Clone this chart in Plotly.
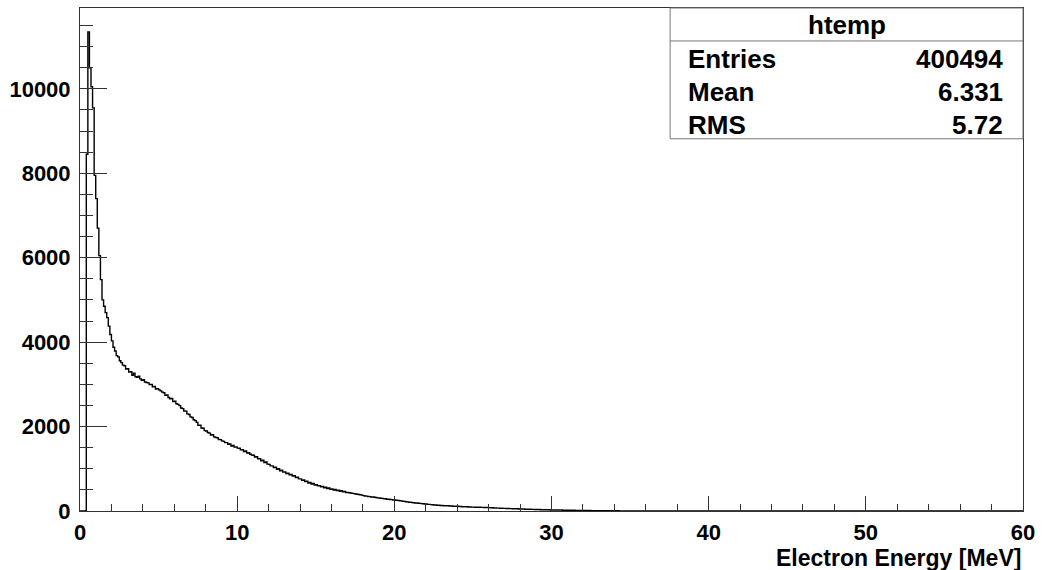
import plotly.graph_objects as go

# Histogram: 600 bins of 0.1 MeV over [0, 60]; counts
bin_width = 0.1
x_min, x_max = 0.0, 60.0
counts_read = [
    # 0.0 - 1.0
    0, 0, 0, 0, 8450, 11350, 10500, 10050, 9550, 7950,
    # 1.0 - 2.0
    7400, 6700, 6050, 5480, 5000, 4850, 4700, 4580, 4380, 4180,
    # 2.0 - 3.0
    4030, 3880, 3790, 3680, 3650, 3560, 3515, 3455, 3440, 3365,
    # 3.0 - 4.0
    3370, 3290, 3300, 3215, 3265, 3180, 3170, 3195, 3130, 3095,
    # 4.0 - 5.0
    3110, 3055, 3045, 3035, 2995, 3000, 2940, 2950, 2890, 2895,
    # 5.0 - 6.0
    2870, 2845, 2815, 2800, 2740, 2750, 2690, 2660, 2665, 2590,
    # 6.0 - 7.0
    2600, 2540, 2525, 2495, 2440, 2425, 2370, 2365, 2300, 2285,
    # 7.0 - 8.0
    2230, 2215, 2160, 2140, 2100, 2030, 2035, 1965, 1960, 1905,
    # 8.0 - 9.0
    1895, 1860, 1845, 1800, 1805, 1755, 1740, 1735, 1695, 1690,
    # 9.0 - 10.0
    1660, 1650, 1620, 1620, 1580, 1590, 1540, 1550, 1515, 1520,
    # 10.0 - 11.0
    1490, 1485, 1450, 1455, 1410, 1420, 1375, 1380, 1345, 1325,
    # 11.0 - 12.0
    1320, 1280, 1285, 1235, 1240, 1190, 1205, 1150, 1160, 1110,
    # 12.0 - 13.0
    1105, 1070, 1070, 1030, 1035, 990, 1000, 955, 965, 920,
    # 13.0 - 14.0
    925, 890, 895, 855, 865, 825, 835, 795, 800, 760,
    # 14.0 - 15.0
    760, 725, 735, 695, 705, 665, 675, 640, 650, 612,
    # 15.0 - 16.0
    622, 594, 602, 572, 582, 550, 562, 530, 545, 512,
    # 16.0 - 17.0
    525, 498, 508, 482, 494, 466, 480, 452, 462, 438,
    # 17.0 - 18.0
    440, 432, 426, 418, 412, 404, 398, 390, 385, 375,
    # 18.0 - 19.0
    365, 356, 353, 344, 341, 333, 331, 324, 321, 312,
    # 19.0 - 20.0
    309, 301, 299, 290, 289, 280, 279, 271, 269, 262,
    # 20.0 - 21.0
    261, 253, 251, 243, 241, 232, 229, 220, 217, 208,
    # 21.0 - 22.0
    206, 198, 197, 190, 189, 182, 181, 174, 173, 166,
    # 22.0 - 23.0
    165, 158, 157, 150, 149, 143, 143, 137, 137, 131,
    # 23.0 - 24.0
    131, 126, 127, 122, 123, 118, 119, 114, 115, 110,
    # 24.0 - 25.0
    111, 106, 107, 102, 103, 98, 99, 94, 95, 91,
    # 25.0 - 26.0
    92, 89, 90, 87, 88, 85, 86, 83, 82, 79,
    # 26.0 - 27.0
    80, 76, 76, 72, 73, 69, 69, 65, 65, 61,
    # 27.0 - 28.0
    62, 59, 60, 56, 57, 54, 55, 51, 52, 49,
    # 28.0 - 29.0
    49, 46, 47, 43, 44, 41, 41, 38, 39, 36,
    # 29.0 - 30.0
    36, 33, 34, 31, 32, 29, 30, 27, 28, 25,
    # 30.0 - 31.0
    26, 23, 25, 22, 23, 20, 22, 19, 20, 18,
    # 31.0 - 32.0
    19, 17, 18, 15, 17, 14, 15, 13, 14, 12,
    # 32.0 - 33.0
    13, 11, 12, 10, 11, 9, 10, 8, 10, 8,
    # 33.0 - 34.0
    9, 7, 8, 6, 7, 6, 6, 5, 6, 4,
    # 34.0 - 35.0
    5, 4, 5, 3, 4, 3, 4, 3, 3, 2,
    # 35.0 - 36.0
    3, 2, 3, 2, 2, 1, 2, 1, 2, 1,
    # 36.0 - 37.0
    1, 1, 2, 1, 1, 0, 1, 1, 0, 1,
    # 37.0 - 38.0
    0, 1, 0, 0, 1, 0, 0, 1, 0, 0,
]
n_bins = 600
counts = counts_read + [0] * (n_bins - len(counts_read))

# Statistics box
stats_title = "htemp"
stats_labels = ["Entries", "Mean", "RMS"]
stats_values = ["400494", "6.331", "5.72"]

x_title = "Electron Energy [MeV]"
x_ticks = [0, 10, 20, 30, 40, 50, 60]
y_ticks = [0, 2000, 4000, 6000, 8000, 10000]
y_max = 11915

# step coordinates built from bin edges
edges = [x_min + i * bin_width for i in range(n_bins + 1)]
xs = edges
ys = counts + [counts[-1]]

fig = go.Figure()
fig.add_trace(go.Scatter(
    x=xs, y=ys, mode="lines", line=dict(color="black", width=1.4, shape="hv"),
    hoverinfo="skip", showlegend=False,
))

font_family = "Liberation Sans, Arial, Helvetica, sans-serif"
axis_color = "#333333"

fig.update_layout(
    width=1042, height=570,
    margin=dict(l=80, r=16, t=7, b=59),
    paper_bgcolor="white", plot_bgcolor="white",
    showlegend=False,
    font=dict(family=font_family, color="black"),
    xaxis=dict(
        range=[x_min, x_max], tickmode="array", tickvals=x_ticks,
        ticktext=[str(v) for v in x_ticks],
        ticks="inside", ticklen=15, tickwidth=1, tickcolor=axis_color,
        minor=dict(tickmode="linear", tick0=0, dtick=2, ticks="inside",
                   ticklen=7, tickwidth=1, tickcolor=axis_color, showgrid=False),
        showline=True, linecolor=axis_color, linewidth=1, mirror=True,
        showgrid=False, zeroline=False,
        tickfont=dict(family=font_family, size=22, weight="bold", color="black"),
        ticklabelstandoff=2,
    ),
    yaxis=dict(
        range=[0, y_max], tickmode="array", tickvals=y_ticks,
        ticktext=[str(v) for v in y_ticks],
        ticks="inside", ticklen=27, tickwidth=1, tickcolor=axis_color,
        minor=dict(tickmode="linear", tick0=0, dtick=500, ticks="inside",
                   ticklen=13, tickwidth=1, tickcolor=axis_color, showgrid=False),
        showline=True, linecolor=axis_color, linewidth=1, mirror=True,
        showgrid=False, zeroline=False,
        tickfont=dict(family=font_family, size=22, weight="bold", color="black"),
        ticklabelstandoff=4,
    ),
)

# x-axis title (right aligned below the axis)
fig.add_annotation(
    x=1.0, y=-0.093, xref="paper", yref="paper", xanchor="right", yanchor="middle",
    text=x_title, showarrow=False,
    font=dict(family=font_family, size=23, weight="bold", color="black"),
)

# stats box
box_x0, box_x1 = 0.6258, 1.0
box_y0, box_y1 = 0.740, 1.0
header_y = 0.9345
fig.add_shape(type="rect", xref="paper", yref="paper",
              x0=box_x0, x1=box_x1, y0=box_y0, y1=box_y1,
              line=dict(color="#777777", width=1), fillcolor="white", layer="above")
fig.add_shape(type="line", xref="paper", yref="paper",
              x0=box_x0, x1=box_x1, y0=header_y, y1=header_y,
              line=dict(color="#777777", width=1), layer="above")
fig.add_annotation(
    x=(box_x0 + box_x1) / 2, y=0.966, xref="paper", yref="paper",
    xanchor="center", yanchor="middle", text=stats_title, showarrow=False,
    font=dict(family=font_family, size=26, weight="bold", color="black"),
)
row_y = [0.8988, 0.8333, 0.7679]
for lab, val, yy in zip(stats_labels, stats_values, row_y):
    fig.add_annotation(x=0.6427, y=yy, xref="paper", yref="paper",
                       xanchor="left", yanchor="middle", text=lab, showarrow=False,
                       font=dict(family=font_family, size=26, weight="bold", color="black"))
    fig.add_annotation(x=0.981, y=yy, xref="paper", yref="paper",
                       xanchor="right", yanchor="middle", text=val, showarrow=False,
                       font=dict(family=font_family, size=26, weight="bold", color="black"))

fig.write_html("out.html")
